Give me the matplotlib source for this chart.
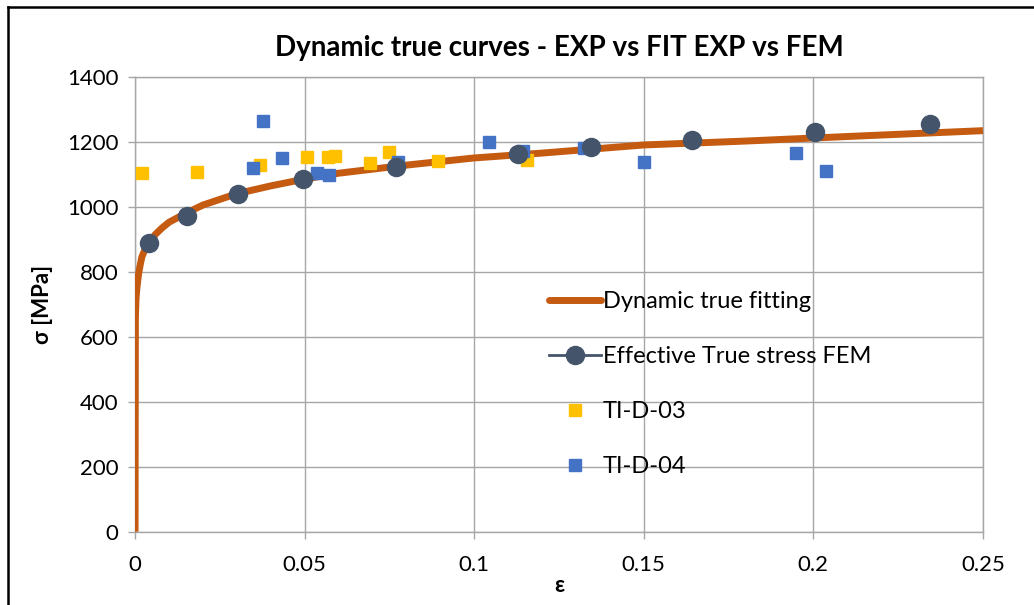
import matplotlib.pyplot as plt
from matplotlib.lines import Line2D

# fitted dynamic true curve
eps_fit = [0, 0.0001, 0.0003, 0.0006, 0.001, 0.0015, 0.002, 0.003, 0.004, 0.006,
           0.008, 0.01, 0.015, 0.02, 0.03, 0.04, 0.05, 0.06, 0.08, 0.10,
           0.12, 0.15, 0.18, 0.21, 0.25]
sig_fit = [0, 660, 720, 755, 790, 820, 845, 870, 887, 915,
           935, 952, 980, 1005, 1040, 1064, 1085, 1103, 1128, 1150,
           1165, 1190, 1202, 1216, 1234]

# FEM effective true stress
eps_fem = [0.0041, 0.0152, 0.0303, 0.0496, 0.0769, 0.1130, 0.1344, 0.1642, 0.2004, 0.2345]
sig_fem = [887, 972, 1039, 1086, 1123, 1162, 1183, 1206, 1230, 1255]

# experiments
eps_d03 = [0.0020, 0.0184, 0.0368, 0.0506, 0.0568, 0.0589, 0.0693, 0.0750, 0.0892, 0.1156]
sig_d03 = [1103, 1108, 1128, 1152, 1152, 1156, 1134, 1168, 1141, 1143]

eps_d04 = [0.0348, 0.0377, 0.0434, 0.0537, 0.0573, 0.0774, 0.1043, 0.1144, 0.1325, 0.1501,
           0.1948, 0.2036]
sig_d04 = [1118, 1264, 1151, 1105, 1098, 1137, 1199, 1172, 1182, 1138,
           1164, 1109]

xticks = [0, 0.05, 0.1, 0.15, 0.2, 0.25]
xticklabels = ['0', '0.05', '0.1', '0.15', '0.2', '0.25']
yticks = [0, 200, 400, 600, 800, 1000, 1200, 1400]

c_fit = '#C55A11'
c_fem = '#44546A'
c_d03 = '#FFC000'
c_d04 = '#4472C4'
c_grid = '#A6A6A6'

plt.rcParams['font.family'] = ['Lato', 'DejaVu Sans']

fig = plt.figure(figsize=(10.34, 6.05), dpi=100)
ax = fig.add_axes([0.1306, 0.1212, 0.82, 0.752])

ax.plot(eps_fit, sig_fit, color=c_fit, lw=5, solid_capstyle='butt', zorder=3)
ax.plot(eps_d03, sig_d03, ls='none', marker='s', ms=8, color=c_d03, zorder=4)
ax.plot(eps_d04, sig_d04, ls='none', marker='s', ms=8, color=c_d04, zorder=4)
ax.plot(eps_fem, sig_fem, ls='none', marker='o', ms=13, color=c_fem, zorder=5)

ax.set_xlim(0, 0.25)
ax.set_ylim(0, 1400)
ax.set_xticks(xticks)
ax.set_xticklabels(xticklabels)
ax.set_yticks(yticks)
ax.grid(True, color=c_grid, lw=1)
ax.set_axisbelow(True)
for s in ax.spines.values():
    s.set_color(c_grid)
    s.set_linewidth(1)
ax.tick_params(axis='both', colors=c_grid, labelcolor='black', labelsize=16,
               length=5, width=1, direction='out')
ax.tick_params(axis='x', pad=12)
ax.tick_params(axis='y', pad=7)

ax.set_title('Dynamic true curves - EXP vs FIT EXP vs FEM', fontsize=20,
             fontweight='bold', pad=15)
ax.set_xlabel('ε', fontsize=16, fontweight='bold', labelpad=0)
ax.set_ylabel('σ [MPa]', fontsize=16, fontweight='bold', labelpad=10)

handles = [
    Line2D([], [], color=c_fit, lw=5, solid_capstyle='round'),
    Line2D([], [], color=c_fem, lw=2, marker='o', ms=13),
    Line2D([], [], ls='none', marker='s', ms=8, color=c_d03),
    Line2D([], [], ls='none', marker='s', ms=8, color=c_d04),
]
labels = ['Dynamic true fitting', 'Effective True stress FEM', 'TI-D-03', 'TI-D-04']
fig.legend(handles, labels, loc='upper left', bbox_to_anchor=(0.522, 0.535),
           frameon=False, fontsize=17, handlelength=2.2, handletextpad=0.08,
           labelspacing=1.45, borderaxespad=0)

# outer frame of the chart
fig.add_artist(Line2D([0.0077, 0.0077], [0, 0.9884], color='black', lw=1.8,
                      transform=fig.transFigure))
fig.add_artist(Line2D([0.0077, 1], [0.9884, 0.9884], color='black', lw=1.8,
                      transform=fig.transFigure))

fig.savefig('out.png', dpi=100)
